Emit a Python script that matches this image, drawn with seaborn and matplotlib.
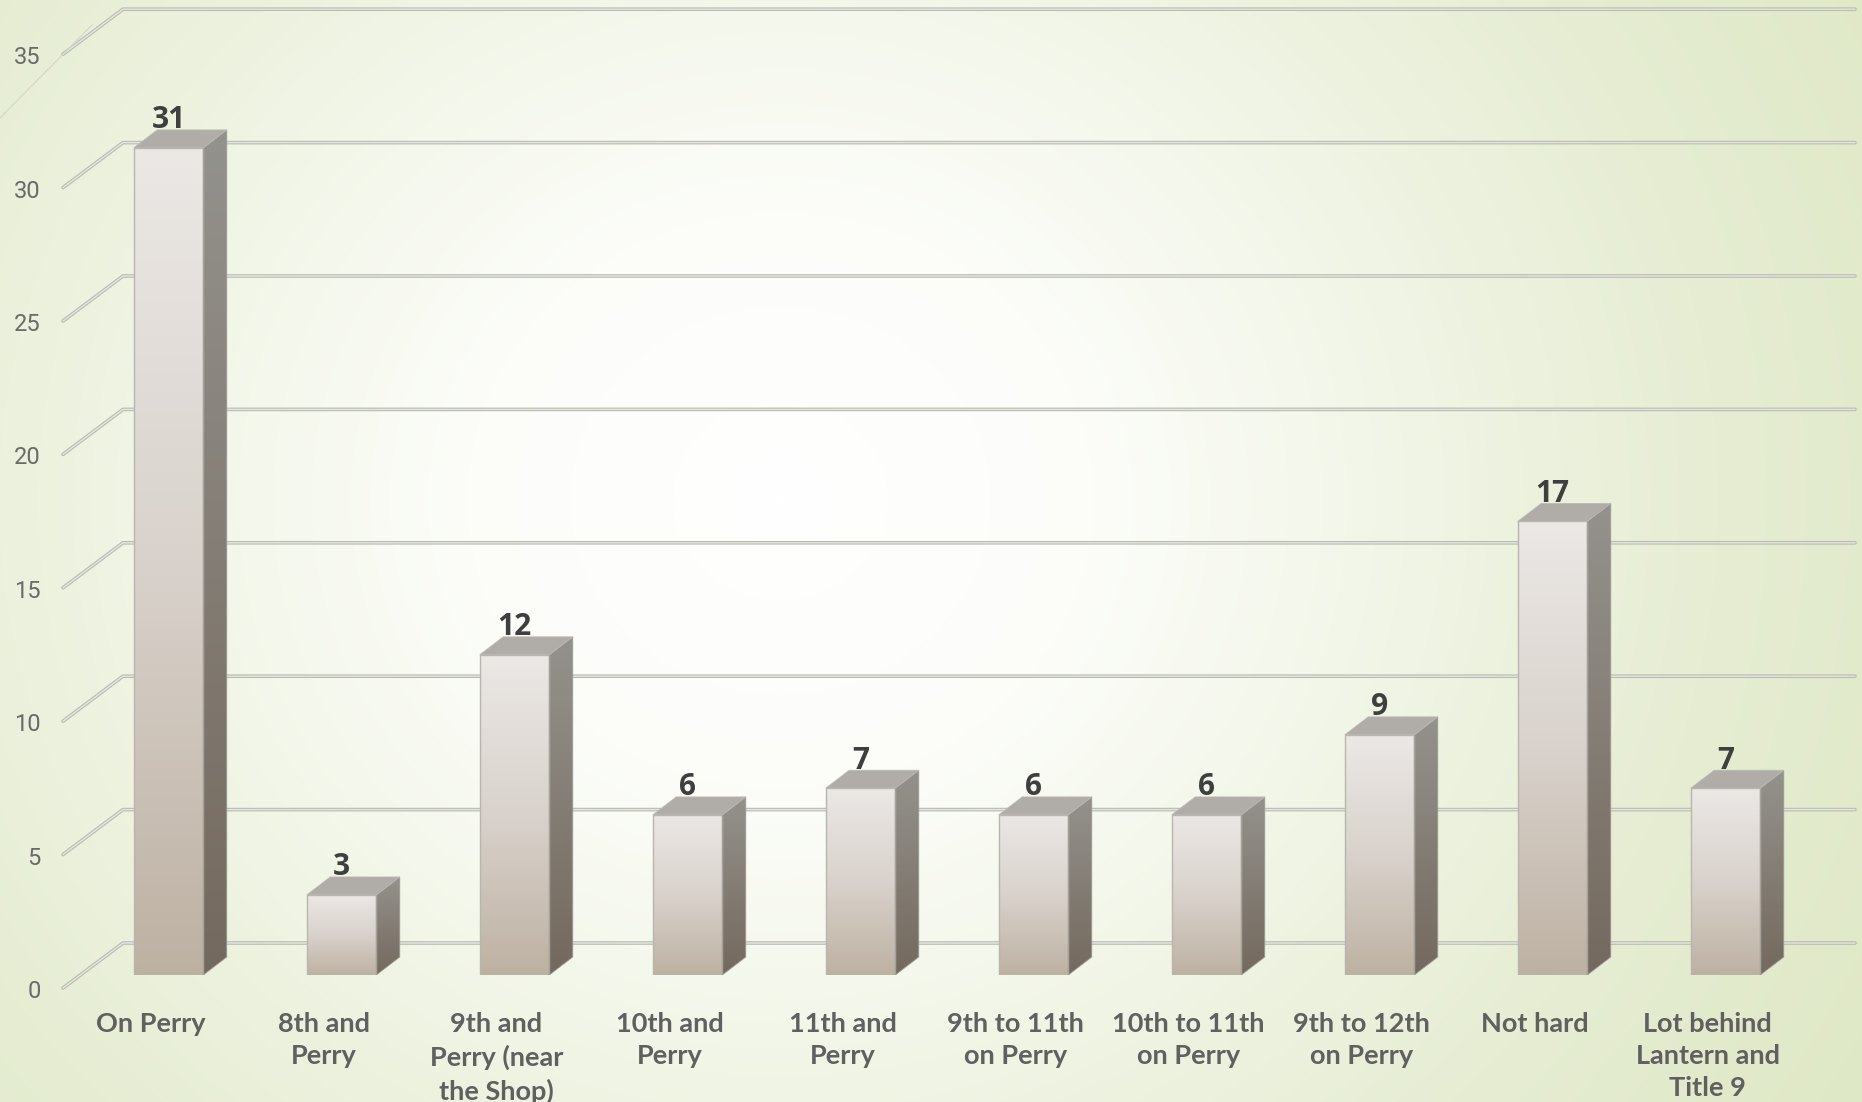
"""
Bar chart with fake 3D boxes: where parking was hard to find
"""

import numpy as np
import pandas as pd
import matplotlib.pyplot as plt
import matplotlib.transforms as mtrans
from matplotlib.colors import LinearSegmentedColormap
from matplotlib.lines import Line2D
from matplotlib.patches import Polygon
import seaborn as sns

categories = ["On Perry", "8th and\nPerry", "9th and\nPerry (near\nthe Shop)",
              "10th and\nPerry", "11th and\nPerry", "9th to 11th\non Perry",
              "10th to 11th\non Perry", "9th to 12th\non Perry", "Not hard",
              "Lot behind\nLantern and\nTitle 9"]
values = [31, 3, 12, 6, 7, 6, 6, 9, 17, 7]
y_ticks = [0, 5, 10, 15, 20, 25, 30, 35]

W, H = 1862, 1102
# layout in pixels of the picture
LEFT, RIGHT, BASE = 63, 1855, 975
FIRST_BAR, BAR_STEP, BAR_W = 168.5, 173, 69.5
UNIT = 26.68
DEPTH_X, DEPTH_Y = 23.5, 18
WALL_X, WALL_Y = 60, 45
WALL_DROP = 13

sns.set_theme(style="white")
fig = plt.figure(figsize=(W / 100, H / 100), dpi=100)

# background: white glow fading to pale green
bg = fig.add_axes([0, 0, 1, 1], zorder=0)
yy, xx = np.mgrid[0:H, 0:W]
r = np.hypot((xx - 780) / 1250, (yy - 500) / 1150)
bg_cmap = LinearSegmentedColormap.from_list(
    "bg", ["#ffffff", "#fcfdf9", "#f1f5e6", "#e6edd3", "#dfe8c6"])
bg.imshow(np.clip(r, 0, 1), cmap=bg_cmap, vmin=0, vmax=1, aspect="auto")
bg.axis("off")

ax = fig.add_axes([LEFT / W, (H - BASE) / H, (RIGHT - LEFT) / W, BASE / H], zorder=1)
ax.patch.set_visible(False)

df = pd.DataFrame({"spot": categories, "count": values})
sns.barplot(data=df, x="spot", y="count", width=BAR_W / BAR_STEP, ax=ax,
            color="#d8d1ca", saturation=1, zorder=3)

ax.set_xlim((LEFT - FIRST_BAR) / BAR_STEP, (RIGHT - FIRST_BAR) / BAR_STEP)
ax.set_ylim(0, BASE / UNIT)

dx, dy = DEPTH_X / BAR_STEP, DEPTH_Y / UNIT
front_cmap = LinearSegmentedColormap.from_list("front", ["#ebe8e5", "#d9d2cc", "#bdb1a2"])
side_cmap = LinearSegmentedColormap.from_list("side", ["#94928d", "#74695e"])
grad = np.linspace(0, 1, 256).reshape(-1, 1)

for bar in ax.patches:
    x0, w, h = bar.get_x(), bar.get_width(), bar.get_height()
    x1 = x0 + w
    bar.set_facecolor("none")
    bar.set_edgecolor("#b8b5ae")
    bar.set_linewidth(1)
    ax.imshow(grad, cmap=front_cmap, extent=(x0, x1, 0, h), aspect="auto", zorder=2)
    side = Polygon([(x1, 0), (x1 + dx, dy), (x1 + dx, h + dy), (x1, h)],
                   closed=True, facecolor="none", edgecolor="#9c9a94", lw=0.6, zorder=3)
    ax.add_patch(side)
    im = ax.imshow(grad, cmap=side_cmap, extent=(x1, x1 + dx, 0, h + dy), aspect="auto", zorder=2)
    im.set_clip_path(side)
    ax.add_patch(Polygon([(x0, h), (x0 + dx, h + dy), (x1 + dx, h + dy), (x1, h)],
                         closed=True, facecolor="#b0aca7", edgecolor="#bcb9b3",
                         lw=0.6, zorder=3))

ax.set_xlim((LEFT - FIRST_BAR) / BAR_STEP, (RIGHT - FIRST_BAR) / BAR_STEP)
ax.set_ylim(0, BASE / UNIT)

# wall and floor lines, starting at the front edge and bending back
x_front = ax.get_xlim()[0]
x_back = x_front + WALL_X / BAR_STEP
x_end = ax.get_xlim()[1]
for v in y_ticks:
    y_front = v - WALL_DROP / UNIT
    y_back = y_front + WALL_Y / UNIT
    for lw, col in [(2.6, "#b8bbb0"), (1.0, "#e6e7e2")]:
        ax.plot([x_front, x_back, x_end], [y_front, y_back, y_back], color=col, lw=lw,
                clip_on=False, zorder=1, solid_capstyle="round")

ax.set_xlabel("")
ax.set_ylabel("")
ax.set_yticks(y_ticks)
ax.set_yticklabels([str(v) for v in y_ticks], family="Roboto", weight="normal",
                   fontsize=17, color="#6a6a6a")
ax.tick_params(axis="y", length=0, pad=16)
ax.tick_params(axis="x", length=0, pad=27)
ax.set_xticks(range(len(categories)))
ax.set_xticklabels(categories, family="Lato", weight="bold", fontsize=19.5,
                   color="#606060", linespacing=1.4, va="top")

y_shift = mtrans.Affine2D().translate(0, -14)
for lab in ax.get_yticklabels():
    lab.set_transform(lab.get_transform() + y_shift)
x_shift = mtrans.Affine2D().translate(-18, 0)
for lab in ax.get_xticklabels():
    lab.set_transform(lab.get_transform() + x_shift)

for texts in [ax.bar_label(c, padding=DEPTH_Y * 0.72 + 1.2, family="Open Sans", weight="bold",
                           fontsize=21.5, color="#3f3f3f") for c in ax.containers]:
    for t in texts:
        t.set_va("baseline")
        t.set_zorder(5)

sns.despine(ax=ax, left=True, bottom=True)

# thin decorative stroke in the top left corner
fig.add_artist(Line2D([0, 92 / W], [1 - 118 / H, 1 - 25 / H], color="#d4d8c8", lw=0.9))

plt.savefig("out.png", dpi=100)
plt.close()
